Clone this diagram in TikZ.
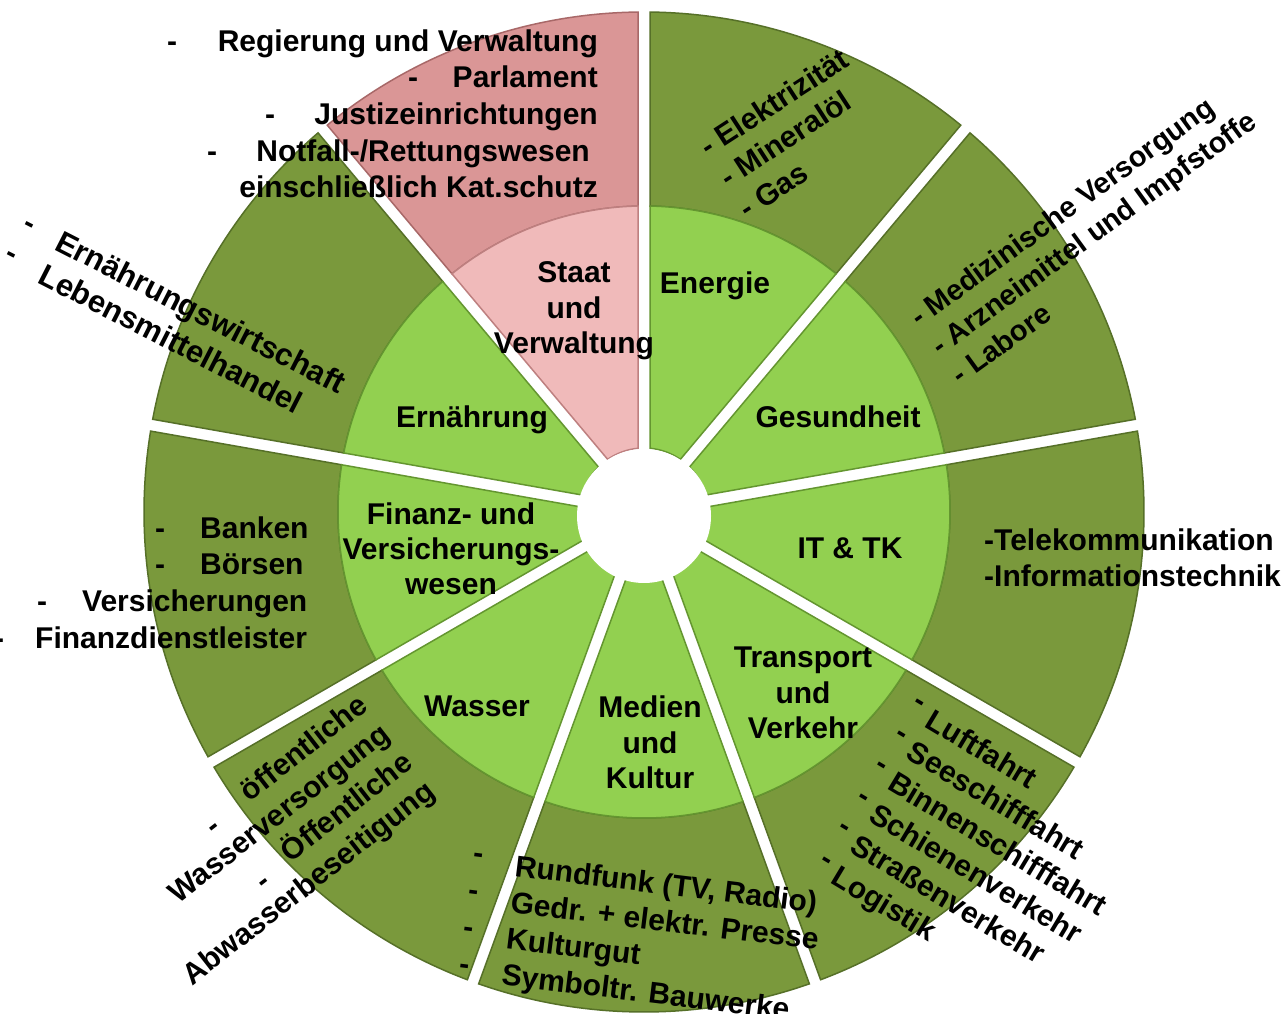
\documentclass[tikz,border=0pt]{standalone}
\usepackage{fontspec}
\setmainfont{Liberation Sans}
\definecolor{gIn}{RGB}{146,208,80}
\definecolor{gOut}{RGB}{122,153,60}
\definecolor{gInE}{RGB}{100,150,48}
\definecolor{gOutE}{RGB}{86,112,40}
\definecolor{pIn}{RGB}{240,186,186}
\definecolor{pOut}{RGB}{218,150,150}
\definecolor{pInE}{RGB}{190,128,128}
\definecolor{pOutE}{RGB}{168,104,104}
\newcommand\gapw{6}
\newcommand\mysector[5]{%
  \filldraw[#5] ({#1+asin(\gapw/#4)}:#4)
    arc[start angle={#1+asin(\gapw/#4)}, end angle={#2-asin(\gapw/#4)}, radius=#4]
    -- ({#2-asin(\gapw/#3)}:#3)
    arc[start angle={#2-asin(\gapw/#3)}, end angle={#1+asin(\gapw/#3)}, radius=#3]
    -- cycle;}
\begin{document}
\begin{tikzpicture}[x=1pt,y=1pt,
  lbl/.style={font=\fontsize{30}{36}\selectfont\bfseries, inner sep=0pt, text=black},
  lblS/.style={font=\fontsize{29}{35}\selectfont\bfseries, inner sep=0pt, text=black},
  lblL/.style={font=\fontsize{31}{37}\selectfont\bfseries, inner sep=0pt, text=black},
  inseg/.style={fill=gIn, draw=gInE, line width=1.5pt},
  outseg/.style={fill=gOut, draw=gOutE, line width=1.5pt},
  insegP/.style={fill=pIn, draw=pInE, line width=1.5pt},
  outsegP/.style={fill=pOut, draw=pOutE, line width=1.5pt}]
\useasboundingbox (0,0) rectangle (1282,1013);
\fill[white] (0,0) rectangle (1282,1013);
% ring segments
\begin{scope}[shift={(644,501)}]
  \foreach \a in {50,10,-30,-70,-110,-150,170,130} {
    \mysector{\a}{\a+40}{306}{500}{outseg}
    \mysector{\a}{\a+40}{64}{306}{inseg}
  }
  \mysector{90}{130}{306}{500}{outsegP}
  \mysector{90}{130}{64}{306}{insegP}
\end{scope}
\fill[white] (644,497) circle (67);
% inner labels
\node[lbl,anchor=base] (staat1) at (574,730) {Staat};
\node[lbl,anchor=base] (staat2) at (574,694) {und};
\node[lbl,anchor=base] (staat3) at (574,659) {Verwaltung};
\node[lbl,anchor=base] (energie) at (715,719) {Energie};
\node[lbl,anchor=base] (gesund) at (838,585) {Gesundheit};
\node[lbl,anchor=base] (ittk) at (850,454) {IT \& TK};
\node[lbl,anchor=base] (trans1) at (803,345) {Transport};
\node[lbl,anchor=base] (trans2) at (803,310) {und};
\node[lbl,anchor=base] (trans3) at (803,275) {Verkehr};
\node[lbl,anchor=base] (med1) at (650,296) {Medien};
\node[lbl,anchor=base] (med2) at (650,260) {und};
\node[lbl,anchor=base] (med3) at (650,225) {Kultur};
\node[lbl,anchor=base] (wasser) at (477,297) {Wasser};
\node[lbl,anchor=base] (fin1) at (451,488) {Finanz- und};
\node[lbl,anchor=base] (fin2) at (451,453) {Versicherungs-};
\node[lbl,anchor=base] (fin3) at (451,418) {wesen};
\node[lbl,anchor=base] (ern) at (472,585) {Ernährung};
% Staat outer
\node[lbl,anchor=base east] (st1) at (598,961) {Regierung und Verwaltung};
\node[lbl,anchor=base] (st1d) at (172,961) {-};
\node[lbl,anchor=base east] (st2) at (598,925) {Parlament};
\node[lbl,anchor=base] (st2d) at (413,925) {-};
\node[lbl,anchor=base east] (st3) at (598,888) {Justizeinrichtungen};
\node[lbl,anchor=base] (st3d) at (270,888) {-};
\node[lbl,anchor=base east] (st4) at (590,851) {Notfall-/Rettungswesen};
\node[lbl,anchor=base] (st4d) at (212,851) {-};
\node[lbl,anchor=base east] (st5) at (598,815) {einschließlich Kat.schutz};
% Finanz outer
\node[lbl,anchor=base] (fd1) at (160,474) {-};
\node[lbl,anchor=base west] (f1) at (200,474) {Banken};
\node[lbl,anchor=base] (fd2) at (160,438) {-};
\node[lbl,anchor=base west] (f2) at (200,438) {Börsen};
\node[lbl,anchor=base] (fd3) at (42,401) {-};
\node[lbl,anchor=base west] (f3) at (82,401) {Versicherungen};
\node[lbl,anchor=base] (fd4) at (-1,364) {-};
\node[lbl,anchor=base west] (f4) at (35,364) {Finanzdienstleister};
% IT outer
\node[lbl,anchor=base west] (it1) at (984,462) {-Telekommunikation};
\node[lbl,anchor=base west] (it2) at (984,426) {-Informationstechnik};
% Energie outer
\begin{scope}[shift={(708,855)},rotate=33,transform shape]
  \node[lbl,anchor=base west] (en1) at (0,0) {- Elektrizität};
  \node[lbl,anchor=base west] (en2) at (0,-36.5) {- Mineralöl};
  \node[lbl,anchor=base west] (en3) at (0,-73) {- Gas};
\end{scope}
% Gesundheit outer
\begin{scope}[shift={(919,685)},rotate=36,transform shape]
  \node[lblS,anchor=base west] (ge1) at (0,0) {- Medizinische Versorgung};
  \node[lblS,anchor=base west] (ge2) at (0,-35.5) {- Arzneimittel und Impfstoffe};
  \node[lblS,anchor=base west] (ge3) at (0,-71) {- Labore};
\end{scope}
% Ernaehrung outer
\begin{scope}[shift={(53,764)},rotate=-27,transform shape]
  \node[lblL,anchor=base west] (er1) at (0,0) {Ernährungswirtschaft};
  \node[lblL,anchor=base west] (er2) at (0,-37.5) {Lebensmittelhandel};
\end{scope}
\node[lbl,rotate=-27] (erd1) at (28,785) {-};
\node[lbl,rotate=-27] (erd2) at (10,755) {-};
% Wasser outer
\begin{scope}[shift={(369.5,304)},rotate=38,transform shape]
  \node[lbl,anchor=base east] (wa1) at (0,0) {öffentliche};
  \node[lbl,anchor=base east] (wa2) at (0,-36.5) {Wasserversorgung};
  \node[lbl,anchor=base east] (wa3) at (0,-73) {Öffentliche};
  \node[lbl,anchor=base east] (wa4) at (0,-109.5) {Abwasserbeseitigung};
\end{scope}
\node[lbl,rotate=38] (wad1) at (215,183) {-};
\node[lbl,rotate=38] (wad2) at (265,128) {-};
% Medien outer
\begin{scope}[shift={(514,137)},rotate=-7,transform shape]
  \node[lbl,anchor=base west] (me1) at (0,0) {Rundfunk (TV, Radio)};
  \node[lbl,anchor=base west] (me2) at (0,-36.5) {Gedr. + elektr. Presse};
  \node[lbl,anchor=base west] (me3) at (0,-73) {Kulturgut};
  \node[lbl,anchor=base west] (me4) at (0,-109.5) {Symboltr. Bauwerke};
\end{scope}
\node[lbl,rotate=-7] (med1d) at (478,155) {-};
\node[lbl,rotate=-7] (med2d) at (473,118) {-};
\node[lbl,rotate=-7] (med3d) at (468,81) {-};
\node[lbl,rotate=-7] (med4d) at (464,44) {-};
% Transport outer
\begin{scope}[shift={(923.6,286.8)},rotate=-31,transform shape]
  \node[lbl,anchor=base west] (tr1) at (0,0) {Luftfahrt};
  \node[lbl,anchor=base west] (tr2) at (0,-36.5) {Seeschifffahrt};
  \node[lbl,anchor=base west] (tr3) at (0,-73) {Binnenschifffahrt};
  \node[lbl,anchor=base west] (tr4) at (0,-109.5) {Schienenverkehr};
  \node[lbl,anchor=base west] (tr5) at (0,-146) {Straßenverkehr};
  \node[lbl,anchor=base west] (tr6) at (0,-182.5) {Logistik};
\end{scope}
\node[lbl,rotate=-31] (trd1) at (918,308) {-};
\node[lbl,rotate=-31] (trd2) at (900,276) {-};
\node[lbl,rotate=-31] (trd3) at (880,245) {-};
\node[lbl,rotate=-31] (trd4) at (862,213) {-};
\node[lbl,rotate=-31] (trd5) at (843,183) {-};
\node[lbl,rotate=-31] (trd6) at (825,150) {-};
\end{tikzpicture}
\end{document}
